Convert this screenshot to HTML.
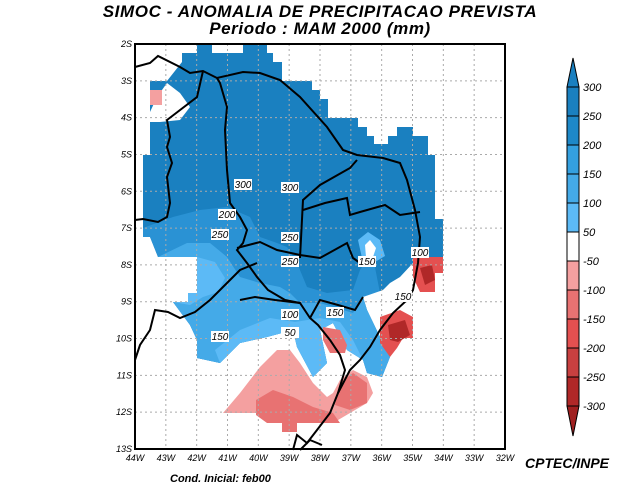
<!DOCTYPE html>
<html><head><meta charset="utf-8"><style>
body{margin:0;background:#fff}
svg{display:block;font-family:"Liberation Sans",sans-serif}
.t{font-style:italic;font-weight:bold}
.tk{font-size:9px;font-style:italic}
</style></head><body>
<svg width="640" height="494" viewBox="0 0 640 494">
<text class="t" x="320" y="17" text-anchor="middle" font-size="17" letter-spacing="0.6">SIMOC -  ANOMALIA DE PRECIPITACAO PREVISTA</text>
<text class="t" x="320" y="34" text-anchor="middle" font-size="17" letter-spacing="0.6">Periodo : MAM 2000 (mm)</text>
<g id="fields"></g>
<g id="grid"></g>
<g id="borders"></g>
<rect x="135" y="44" width="370" height="405" fill="none" stroke="#000" stroke-width="2"/>
<g id="axes"></g>
<g id="cbar"></g>
<text class="t" x="170" y="482" font-size="11" font-weight="normal">Cond. Inicial: feb00</text>
<text class="t" x="525" y="468" font-size="14">CPTEC/INPE</text>
</svg>
<script>
const lonTicks=[-44,-43,-42,-41,-40,-39,-38,-37,-36,-35,-34,-33,-32];
const latTicks=[-2,-3,-4,-5,-6,-7,-8,-9,-10,-11,-12,-13];
const cbLevels=["300","250","200","150","100","50","-50","-100","-150","-200","-250","-300"];
const cbColors=["#1a80c0","#1e88c8","#34a0e0","#44aae8","#5cbaf6","#ffffff","#f4a0a0","#e87272","#e45050","#c84040","#b02828"];
(function(){
const NS="http://www.w3.org/2000/svg";
const X=lon=>135+(lon+44)*370/12, Y=lat=>44+(-2-lat)*405/11;
function mk(p,t,a){const e=document.createElementNS(NS,t);for(const k in a)e.setAttribute(k,a[k]);p.appendChild(e);return e;}
const regions=[
["dark-blue-region","#1a80c0","197,44 212,44 212,53 243,53 243,44 267,44 267,53 273,53 273,62 282,62 282,81 312,81 312,90 320,90 320,99 328,99 328,118 358,118 358,127 367,127 367,136 374,136 374,144 388,144 388,136 397,136 397,127 413,127 413,136 428,136 428,155 435,155 435,219 443,219 443,257 420,257 413,263 400,277 390,283 380,293 363,297 367,310 380,337 390,357 382,377 367,373 363,360 347,350 333,323 320,330 327,363 313,377 297,347 293,330 267,337 240,343 220,363 197,358 197,340 190,325 173,302 188,302 188,293 197,293 197,257 158,257 150,237 143,237 143,155 150,155 150,81 167,81 182,62 182,53 197,53"],
["blue-200-250","#2a92d4","143,228 173,217 200,210 227,207 250,217 260,237 277,243 287,247 297,263 307,287 327,293 353,290 360,270 372,252 380,293 363,297 367,310 380,337 390,357 382,377 367,373 363,360 347,350 333,323 320,330 327,363 313,377 297,347 293,330 267,337 240,343 220,363 197,358 197,340 190,325 173,302 188,302 188,293 197,293 197,257 158,257 150,237 143,237"],
["blue-100-150","#44aae8","158,257 187,243 210,243 227,257 240,277 260,283 280,287 290,293 300,303 320,303 353,313 363,297 367,310 380,337 390,357 382,377 367,373 363,360 347,350 333,323 320,330 327,363 313,377 297,347 293,330 267,337 240,343 220,363 197,358 197,340 190,325 173,302 188,302 188,293 197,293 197,257"],
["blue-50-100-west","#5cbaf6","197,257 215,262 225,278 218,292 203,297 190,305 173,302 188,302 188,293 197,293"],
["blue-50-100-south","#5cbaf6","240,330 270,318 295,322 320,318 340,322 353,340 363,360 367,373 382,377 390,357 380,337 392,325 397,340 390,357 382,377 367,373 363,360 347,350 333,323 320,330 327,363 313,377 297,347 293,330 267,337 240,343 220,363 215,350"],
["blue-east-light","#5cbaf6","358,240 368,232 380,240 385,256 375,262 362,258"],
["white-nw","#ffffff","150,112 157,97 167,83 180,93 190,107 180,120 160,122 150,122"],
["white-east-1","#ffffff","365,245 370,240 376,248 373,257 366,257"],
["white-east-2","#ffffff","363,297 383,290 400,280 405,300 395,310 380,312 372,305"],
["pink-sw","#f4a0a0","223,413 240,393 260,367 277,350 290,350 300,363 313,383 327,397 333,393 340,380 353,370 367,377 373,393 367,403 350,413 333,423 297,423 297,432 282,432 282,423 267,423 267,413"],
["pink-sw-dark","#e87272","256,400 273,390 293,397 313,407 333,413 340,423 297,423 297,432 282,432 282,423 267,423 256,415"],
["pink-mid","#e87272","340,383 353,373 367,383 367,403 350,410 335,405"],
["pink-nw","#f4a0a0","150,90 162,90 162,105 150,105"],
["pink-c","#e87272","323,327 340,330 347,345 345,353 330,353 323,340"],
["red-east-1","#e45050","413,257 443,257 443,273 435,273 435,292 420,292 413,277"],
["red-east-1-core","#b02828","420,268 432,265 435,280 425,285"],
["red-east-2","#e45050","380,317 400,310 413,317 413,338 403,338 397,348 390,357 380,343"],
["red-east-2-core","#b02828","388,325 405,320 410,335 398,342 390,340"]
];
const F=document.getElementById('fields');
regions.forEach(r=>{const e=mk(F,'polygon',{points:r[2],fill:r[1]});

});
const G=document.getElementById('grid');
lonTicks.slice(1,-1).forEach(l=>mk(G,'line',{x1:X(l),x2:X(l),y1:44,y2:449,stroke:'#aaa','stroke-dasharray':'2,3','stroke-width':1}));
latTicks.slice(1,-1).forEach(l=>mk(G,'line',{x1:135,x2:505,y1:Y(l),y2:Y(l),stroke:'#aaa','stroke-dasharray':'2,3','stroke-width':1}));
const borders=[
"135,67 150,63 158,56 180,67 190,73 203,71 217,78 243,72 260,73 280,80 300,97 327,127 343,150 357,155 383,158 400,163 407,180 415,210 420,237 418,263 413,290 407,300 393,313 380,330 370,347 360,360 350,370 338,393 330,413 317,430 307,443 297,435 293,450",
"217,78 220,83 227,107 225,130 227,170 230,203 240,217 247,230 243,243 237,250 247,263 257,277 268,290 285,300 300,303",
"203,71 197,97 167,120 170,137 167,147 172,163 167,177 170,203 167,217 158,222 143,219 135,220",
"237,248 260,242 277,250 300,255 320,258 347,243 353,258 360,263",
"300,258 303,200 320,185 350,168 357,160",
"303,210 325,203 347,198 350,215 360,212 385,205 400,215 420,212",
"135,360 140,345 150,330 155,310 168,312 180,318 195,312 210,300 225,285 240,270 257,263",
"240,300 255,297 275,300 300,303 310,318 318,325 330,340 340,355 345,370 338,393",
"310,318 320,300 338,305 355,310 363,297",
"300,450 310,440 322,445"
];
const B=document.getElementById('borders');
borders.forEach(p=>mk(B,'polyline',{points:p,fill:'none',stroke:'#000','stroke-width':2}));
[["300",243,185],["300",290,188],["200",227,215],["250",220,235],["250",290,238],["250",290,262],["100",290,315],["150",220,337],["50",290,333],["150",367,262],["100",420,253],["150",403,297],["150",335,313]].forEach(c=>{
 const g=mk(B,'g',{});mk(g,'rect',{x:c[1]-9,y:c[2]-6,width:18,height:11,fill:'#fff'});
 const t=mk(g,'text',{x:c[1],y:c[2]+3,'text-anchor':'middle','font-size':'10','font-style':'italic'});t.textContent=c[0];
 
 });
const A=document.getElementById('axes');
latTicks.forEach(l=>{const t=mk(A,'text',{x:132,y:Y(l)+3,'text-anchor':'end',class:'tk'});t.textContent=(-l)+'S';
 
 });
lonTicks.forEach(l=>{const t=mk(A,'text',{x:X(l),y:461,'text-anchor':'middle',class:'tk'});t.textContent=(-l)+'W';
 
 });
const C=document.getElementById('cbar');const cx=567,cw=12,y0=87,h=29;
mk(C,'polygon',{points:`${cx},${y0} ${cx+cw/2},58 ${cx+cw},${y0}`,fill:cbColors[0],stroke:'#000'});
cbColors.forEach((c,i)=>{const r=mk(C,'rect',{x:cx,y:y0+i*h,width:cw,height:h,fill:c,stroke:'#000'});
 
 });
const bot=y0+cbColors.length*h;
mk(C,'polygon',{points:`${cx},${bot} ${cx+cw/2},436 ${cx+cw},${bot}`,fill:'#a02020',stroke:'#000'});
cbLevels.forEach((v,i)=>{const t=mk(C,'text',{x:cx+cw+4,y:y0+i*h+4,'font-size':'11','font-style':'italic'});t.textContent=v;
 
 });
})();
</script>
</body></html>
